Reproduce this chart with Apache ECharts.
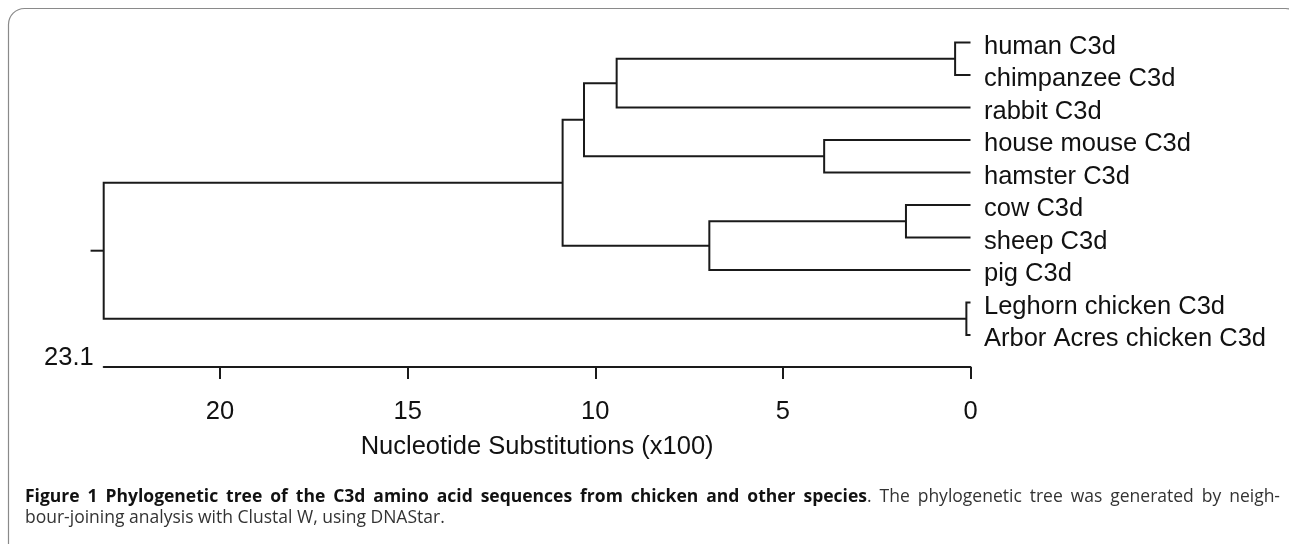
<!DOCTYPE html>
<html>
<head>
<meta charset="utf-8">
<script src="https://cdn.jsdelivr.net/npm/echarts@6/dist/echarts.min.js"></script>
<style>
  html, body { margin: 0; padding: 0; background: #fff; }
  #chart { width: 1289px; height: 544px; }
</style>
</head>
<body>
<div id="chart"></div>
<script>
// ---- data ----
const leafNames = ['human C3d', 'chimpanzee C3d', 'rabbit C3d', 'house mouse C3d', 'hamster C3d',
  'cow C3d', 'sheep C3d', 'pig C3d', 'Leghorn chicken C3d', 'Arbor Acres chicken C3d'];
// internal nodes: height (nucleotide substitutions x100) and their two children (L = leaf, N = node)
const nodeHeights = [0.41, 9.43, 3.90, 10.30, 1.72, 6.96, 10.87, 0.11, 23.1];
const nodeChildren = [
  ['L0', 'L1'], ['N0', 'L2'], ['L3', 'L4'], ['N1', 'N2'],
  ['L5', 'L6'], ['N4', 'L7'], ['N3', 'N5'], ['L8', 'L9'], ['N6', 'N7']
];
const rootStub = 0.35;
const xTicks = [0, 5, 10, 15, 20];
const scaleMax = 23.1;
const axisName = 'Nucleotide Substitutions (x100)';
const captionBold = 'Figure 1 Phylogenetic tree of the C3d amino acid sequences from chicken and other species';
const captionRest = '. The phylogenetic tree was generated by neigh-';
const captionLine2 = 'bour-joining analysis with Clustal W, using DNAStar.';

// ---- build tree geometry in data units ----
function pos(id) {
  if (id[0] === 'L') { const i = +id.slice(1); return [0, i]; }
  const n = +id.slice(1);
  const a = pos(nodeChildren[n][0]), b = pos(nodeChildren[n][1]);
  return [nodeHeights[n], (a[1] + b[1]) / 2];
}
const branchLines = nodeChildren.map((ch, n) => {
  const a = pos(ch[0]), b = pos(ch[1]), h = nodeHeights[n];
  return { coords: [[a[0], a[1]], [h, a[1]], [h, b[1]], [b[0], b[1]]] };
});
const rootPos = pos('N' + (nodeHeights.length - 1));
branchLines.push({ coords: [[rootPos[0], rootPos[1]], [rootPos[0] + rootStub, rootPos[1]]] });
const leafData = leafNames.map((nm, i) => ({ value: [0, i], name: nm }));

const FONT = "'Liberation Sans', Arial, Helvetica, sans-serif";
const CAPFONT = "'Open Sans', 'Noto Sans', sans-serif";
const chart = echarts.init(document.getElementById('chart'));
const option = {
  animation: false,
  backgroundColor: '#ffffff',
  grid: { left: 103.7, right: 318.5, top: 42.5, bottom: 209 },
  xAxis: {
    type: 'value', inverse: true, min: 0, max: scaleMax, position: 'bottom',
    offset: 32,
    splitLine: { show: false },
    axisLine: { show: true, onZero: false, lineStyle: { color: '#1a1a1a', width: 2 } },
    axisTick: { show: true, length: 12, customValues: xTicks, lineStyle: { color: '#1a1a1a', width: 2 } },
    axisLabel: { customValues: xTicks, margin: 32, fontSize: 25.5, color: '#111', fontFamily: FONT },
    name: axisName, nameLocation: 'middle', nameGap: 67,
    nameTextStyle: { fontSize: 25.5, color: '#111', fontFamily: FONT }
  },
  yAxis: { type: 'value', inverse: true, min: 0, max: leafNames.length - 1, show: false },
  series: [
    {
      type: 'lines', coordinateSystem: 'cartesian2d', polyline: true, clip: false,
      silent: true,
      lineStyle: { color: '#1a1a1a', width: 2, opacity: 1 },
      data: branchLines
    },
    {
      type: 'scatter', symbolSize: 1, itemStyle: { color: 'rgba(0,0,0,0)', opacity: 1 }, clip: false,
      silent: true,
      label: {
        show: true, position: 'right', distance: 13, offset: [0, 4],
        formatter: p => p.name, fontSize: 25.5, color: '#111', opacity: 1, fontFamily: FONT
      },
      data: leafData
    }
  ]
};
chart.setOption(option);

// ---- caption, justified on line 1 like the original ----
const capSize = 17.5;
const ctx = document.createElement('canvas').getContext('2d');
function measure(t, bold) {
  ctx.font = (bold ? 'bold ' : '') + capSize + 'px ' + CAPFONT;
  return ctx.measureText(t).width;
}
const capLeft = 25, capRight = 1280, base1 = 506, base2 = 527;
const words = [];
captionBold.split(' ').forEach(w => words.push({ t: w, b: true }));
captionRest.replace(/^\./, '').trim().split(' ').forEach(w => words.push({ t: w, b: false }));
const lastBold = captionBold.split(' ').length - 1;
words[lastBold].tail = '.';
let total = 0;
words.forEach(w => { w.w = measure(w.t, w.b) + (w.tail ? measure(w.tail, false) : 0); total += w.w; });
const gap = (capRight - capLeft - total) / (words.length - 1);
const capGraphics = [];
let cx = capLeft;
words.forEach(w => {
  const tw = measure(w.t, w.b);
  capGraphics.push({ type: 'text', x: cx, y: base1, silent: true,
    style: { text: w.t, fontSize: capSize, fontWeight: w.b ? 'bold' : 'normal', fontFamily: CAPFONT,
             fill: w.b ? '#111' : '#333', verticalAlign: 'bottom' } });
  if (w.tail) {
    capGraphics.push({ type: 'text', x: cx + tw, y: base1, silent: true,
      style: { text: w.tail, fontSize: capSize, fontFamily: CAPFONT, fill: '#333', verticalAlign: 'bottom' } });
  }
  cx += w.w + gap;
});
capGraphics.push({ type: 'text', x: capLeft, y: base2, silent: true,
  style: { text: captionLine2, fontSize: capSize, fontFamily: CAPFONT, fill: '#333', verticalAlign: 'bottom' } });

const xMaxPx = chart.convertToPixel({ xAxisIndex: 0 }, scaleMax);
const axisY = chart.convertToPixel({ yAxisIndex: 0 }, leafNames.length - 1) + 32;
chart.setOption({
  graphic: [
    { type: 'rect', silent: true, z: -1,
      shape: { x: 8.5, y: 8.5, width: 1293, height: 560, r: 16 },
      style: { fill: 'none', stroke: '#8a8a8a', lineWidth: 1.2 } },
    { type: 'text', x: xMaxPx - 10, y: axisY - 9,
      style: { text: scaleMax.toFixed(1), fontSize: 25.5, fill: '#111', fontFamily: FONT,
               align: 'right', verticalAlign: 'middle' } }
  ].concat(capGraphics)
});
</script>
</body>
</html>
